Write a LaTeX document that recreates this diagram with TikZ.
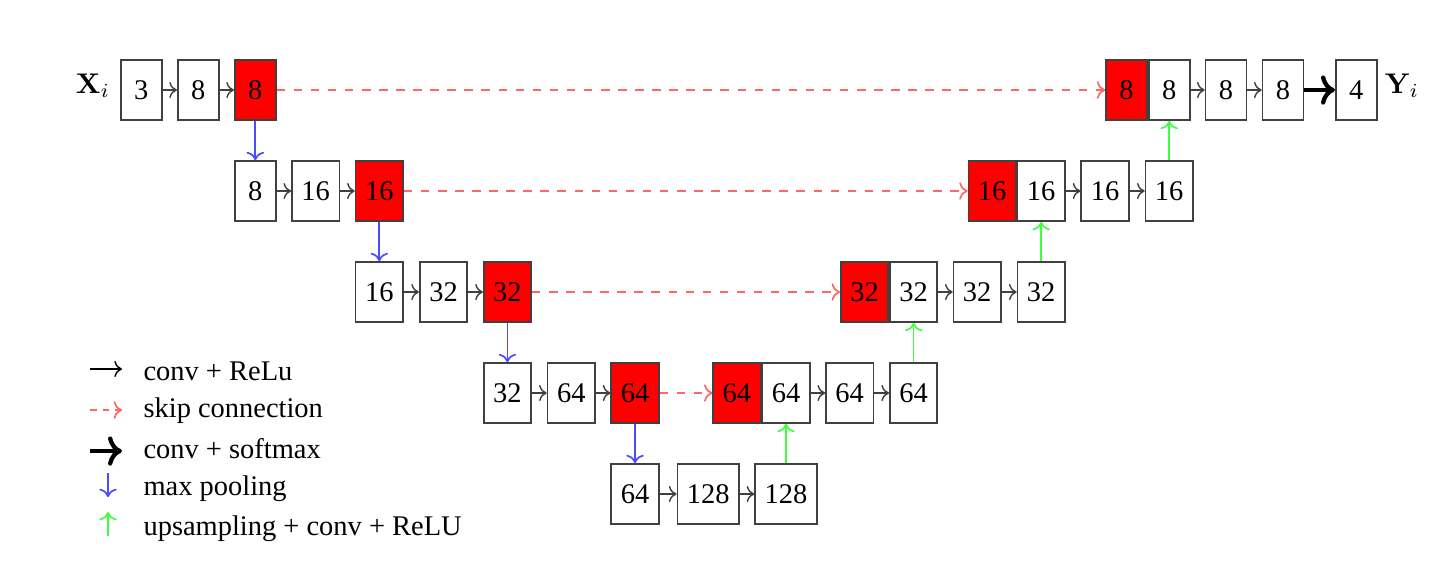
\documentclass[tikz,border=0pt]{standalone}
\usepackage[no-math]{fontspec}
\setmainfont{Liberation Serif}
\usetikzlibrary{arrows.meta}
\begin{document}
\begin{tikzpicture}[x=0.3515pt,y=-0.3515pt,
  blk/.style={draw=black!75, line width=0.6pt, minimum width=14.4pt, minimum height=21.1pt, inner sep=3.33pt, font=\fontsize{10}{12}\selectfont},
  hot/.style={blk, fill=red},
  conv/.style={->, draw=black!75, line width=0.5pt},
  skip/.style={->, dashed, draw=red!60, line width=0.6pt},
  pool/.style={->, draw=blue!70, line width=0.6pt},
  upc/.style={->, draw=green!75, line width=0.6pt},
  soft/.style={->, draw=black, line width=1.5pt},
  lbl/.style={font=\fontsize{10}{12}\selectfont, anchor=base west, inner sep=0pt},
  io/.style={font=\fontsize{10}{12}\selectfont, anchor=base, inner sep=0pt}]
\fill[white] (0,0) rectangle (1454,560);
\useasboundingbox (0,0) rectangle (1454,560);
% row 1
\node[io] (xin) at (93,93) {$\mathbf{X}_i$};
\node[blk] (a1) at (141.2,90) {3};
\node[blk] (a2) at (198.3,90) {8};
\node[hot] (a3) at (255.3,90) {8};
\node[blk] (e2) at (1169.2,90) {8};
\node[hot, anchor=east] (e1) at (e2.west) {8};
\node[blk] (e3) at (1226,90) {8};
\node[blk] (e4) at (1283,90) {8};
\node[blk] (e5) at (1356.3,90) {4};
\node[io] (yout) at (1402,93) {$\mathbf{Y}_i$};
% row 2
\node[blk] (b1) at (255.3,191) {8};
\node[blk] (b2) at (315.7,191) {16};
\node[hot] (b3) at (379.3,191) {16};
\node[blk] (f2) at (1041.2,191) {16};
\node[hot, anchor=east] (f1) at (f2.west) {16};
\node[blk] (f3) at (1105,191) {16};
\node[blk] (f4) at (1169.2,191) {16};
% row 3
\node[blk] (c1) at (379.3,292) {16};
\node[blk] (c2) at (443.5,292) {32};
\node[hot] (c3) at (507.4,292) {32};
\node[blk] (g2) at (913.6,292) {32};
\node[hot, anchor=east] (g1) at (g2.west) {32};
\node[blk] (g3) at (977.2,292) {32};
\node[blk] (g4) at (1041.2,292) {32};
% row 4
\node[blk] (d1) at (507.4,393) {32};
\node[blk] (d2) at (571.3,393) {64};
\node[hot] (d3) at (635,393) {64};
\node[blk] (h2) at (786,393) {64};
\node[hot, anchor=east] (h1) at (h2.west) {64};
\node[blk] (h3) at (849.7,393) {64};
\node[blk] (h4) at (913.6,393) {64};
% row 5
\node[blk] (k1) at (635,494) {64};
\node[blk] (k2) at (708.2,494) {128};
\node[blk] (k3) at (786,494) {128};
% conv arrows
\draw[conv] (a1) -- (a2);
\draw[conv] (a2) -- (a3);
\draw[conv] (b1) -- (b2);
\draw[conv] (b2) -- (b3);
\draw[conv] (c1) -- (c2);
\draw[conv] (c2) -- (c3);
\draw[conv] (d1) -- (d2);
\draw[conv] (d2) -- (d3);
\draw[conv] (k1) -- (k2);
\draw[conv] (k2) -- (k3);
\draw[conv] (h2) -- (h3);
\draw[conv] (h3) -- (h4);
\draw[conv] (g2) -- (g3);
\draw[conv] (g3) -- (g4);
\draw[conv] (f2) -- (f3);
\draw[conv] (f3) -- (f4);
\draw[conv] (e2) -- (e3);
\draw[conv] (e3) -- (e4);
\draw[soft] (e4) -- (e5);
% pooling
\draw[pool] (a3) -- (b1);
\draw[pool] (b3) -- (c1);
\draw[pool] (c3) -- (d1);
\draw[pool] (d3) -- (k1);
% upsampling
\draw[upc] (k3) -- (h2);
\draw[upc] (h4) -- (g2);
\draw[upc] (g4) -- (f2);
\draw[upc] (f4) -- (e2);
% skips
\draw[skip] (a3) -- (e1);
\draw[skip] (b3) -- (f1);
\draw[skip] (c3) -- (g1);
\draw[skip] (d3) -- (h1);
% legend
\coordinate (l1a) at (90,369); \coordinate (l1b) at (122,369);
\coordinate (l2a) at (90,410); \coordinate (l2b) at (122,410);
\coordinate (l3a) at (90,451); \coordinate (l3b) at (122,451);
\coordinate (l4a) at (108,473); \coordinate (l4b) at (108,497);
\coordinate (l5a) at (108,536); \coordinate (l5b) at (108,512);
\draw[conv, draw=black] (l1a) -- (l1b);
\draw[skip, dash pattern=on 2.4pt off 2pt] (l2a) -- (l2b);
\draw[soft] (l3a) -- (l3b);
\draw[pool] (l4a) -- (l4b);
\draw[upc] (l5a) -- (l5b);
\node[lbl] (t1) at (143,380) {conv + ReLu};
\node[lbl] (t2) at (143,417) {skip connection};
\node[lbl] (t3) at (143,458) {conv + softmax};
\node[lbl] (t4) at (143,495) {max pooling};
\node[lbl] (t5) at (143,535) {upsampling + conv + ReLU};
\end{tikzpicture}
\end{document}
